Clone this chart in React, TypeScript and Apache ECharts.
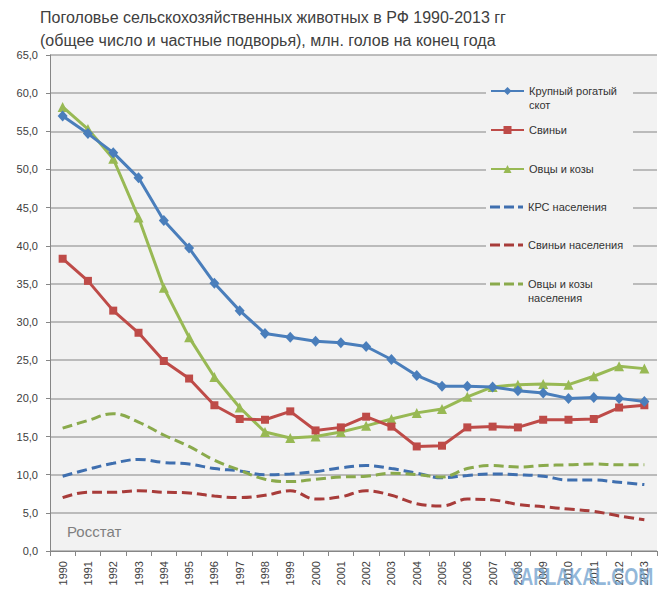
import React, { useEffect, useRef } from 'react';
import * as echarts from 'echarts';

const years = ['1990', '1991', '1992', '1993', '1994', '1995', '1996', '1997', '1998', '1999', '2000', '2001',
    '2002', '2003', '2004', '2005', '2006', '2007', '2008', '2009', '2010', '2011', '2012', '2013'];

// млн. голов на конец года
const cattle = [57.0, 54.7, 52.2, 48.9, 43.3, 39.7, 35.1, 31.5, 28.5, 28.0, 27.5, 27.3, 26.8, 25.1, 23.0, 21.6, 21.6, 21.5, 21.0, 20.7, 20.0, 20.1, 20.0, 19.6];
const pigs = [38.3, 35.4, 31.5, 28.6, 24.9, 22.6, 19.1, 17.3, 17.2, 18.3, 15.8, 16.2, 17.6, 16.3, 13.7, 13.8, 16.2, 16.3, 16.2, 17.2, 17.2, 17.3, 18.8, 19.1];
const sheep = [58.2, 55.3, 51.4, 43.7, 34.5, 28.0, 22.8, 18.8, 15.6, 14.8, 15.0, 15.6, 16.4, 17.3, 18.1, 18.6, 20.2, 21.5, 21.8, 21.9, 21.8, 22.9, 24.2, 23.9];
const cattleHh = [9.8, 10.7, 11.5, 12.0, 11.6, 11.4, 10.8, 10.5, 10.0, 10.1, 10.4, 10.9, 11.2, 10.8, 10.2, 9.6, 9.9, 10.1, 10.0, 9.8, 9.3, 9.3, 9.0, 8.7];
const pigsHh = [7.0, 7.7, 7.7, 7.9, 7.7, 7.6, 7.2, 7.0, 7.3, 7.9, 6.8, 7.1, 7.9, 7.3, 6.2, 5.9, 6.8, 6.7, 6.1, 5.8, 5.5, 5.2, 4.6, 4.1];
const sheepHh = [16.1, 17.1, 18.0, 16.9, 15.2, 13.7, 11.9, 10.6, 9.4, 9.1, 9.4, 9.7, 9.8, 10.2, 10.0, 9.7, 10.8, 11.2, 11.0, 11.2, 11.3, 11.4, 11.3, 11.3];

const names = ['Крупный рогатый скот', 'Свиньи', 'Овцы и козы', 'КРС населения', 'Свиньи населения', 'Овцы и козы населения'];
// пустая первая строка, чтобы первая строка текста стояла на уровне значка
const labels = ['\nКрупный рогатый\nскот', 'Свиньи', 'Овцы и козы', 'КРС населения', 'Свиньи населения', '\nОвцы и козы\nнаселения'];

const FONT = '"Liberation Sans", Arial, sans-serif';
const blue = '#4a7ebb';
const red = '#be4b48';
const green = '#98b954';
const dashIcon = 'path://M0,0H10V3H0Z M14,0H24V3H14Z M28,0H33V3H28Z';

export default function App() {
    const chartRef = useRef<HTMLDivElement>(null);

    useEffect(() => {
        document.body.style.margin = '0';
        if (!chartRef.current) return;
        const chart = echarts.init(chartRef.current, null, { renderer: 'svg' });

        // легенда: по одному блоку на строку, строки на уровне линий сетки
        const rows = [91, 130, 169, 207, 245, 284];
        const legends = names.map((n, i) => {
            const twoLine = labels[i].startsWith('\n');
            const dashed = i >= 3;
            return {
                data: [n],
                orient: 'vertical',
                left: 490,
                top: rows[i] - (twoLine ? 21 : 7),
                padding: 0,
                itemWidth: 33,
                itemHeight: dashed ? 3 : 10,
                icon: dashed ? dashIcon : undefined,
                selectedMode: false,
                formatter: () => labels[i],
                textStyle: {
                    fontFamily: FONT,
                    fontSize: 11,
                    lineHeight: 14,
                    color: '#333',
                },
            };
        });

        const dashed = (name: string, data: number[], color: string) => ({
            name,
            type: 'line',
            data,
            smooth: 0.4,
            symbol: 'none',
            z: 2,
            lineStyle: { width: 3, color, type: [10, 5] },
            itemStyle: { color },
        });

        const option = {
            animation: false,
            backgroundColor: '#fff',
            title: {
                text: 'Поголовье сельскохозяйственных животных в РФ 1990-2013 гг\n(общее число и частные подворья), млн. голов на конец года',
                left: 40,
                top: 6,
                padding: 0,
                textStyle: { fontFamily: FONT, fontSize: 16, fontWeight: 'normal', color: '#404040', lineHeight: 23 },
            },
            legend: legends,
            grid: {
                left: 50, right: 14, top: 55, bottom: 49,
                show: true, backgroundColor: '#f2f2f2', borderWidth: 0,
            },
            xAxis: {
                type: 'category',
                data: years,
                boundaryGap: true,
                axisLine: { lineStyle: { color: '#868686', width: 1 } },
                axisTick: { show: true, length: 5, lineStyle: { color: '#868686' } },
                axisLabel: { rotate: 90, fontFamily: FONT, fontSize: 11, color: '#404040', margin: 10 },
            },
            yAxis: {
                type: 'value',
                min: 0,
                max: 65,
                interval: 5,
                axisLine: { show: true, lineStyle: { color: '#868686', width: 1 } },
                axisTick: { show: true, length: 4, lineStyle: { color: '#868686' } },
                axisLabel: {
                    fontFamily: FONT, fontSize: 11, color: '#404040', margin: 12,
                    formatter: (v: number) => v.toFixed(1).replace('.', ','),
                },
                splitLine: { lineStyle: { color: '#a8a8a8', width: 1.5 } },
            },
            graphic: [
                // фон под легендой скрывает линии сетки
                { type: 'rect', z: 1, shape: { x: 486, y: 72, width: 147, height: 238 }, style: { fill: '#f2f2f2' } },
                { type: 'text', z: 5, x: 67, y: 524, style: { text: 'Росстат', fontFamily: FONT, fontSize: 15, fill: '#7f7f7f' } },
                {
                    type: 'text', z: 100, x: 510, y: 565, scaleX: 0.75,
                    style: { text: 'YAPLAKAL.COM', fontFamily: FONT, fontSize: 24, fontWeight: 'bold', fill: 'rgba(110,160,205,0.75)' },
                },
            ],
            series: [
                {
                    name: names[0], type: 'line', data: cattle, z: 5,
                    symbol: 'diamond', symbolSize: [10, 11],
                    lineStyle: { width: 3, color: blue }, itemStyle: { color: blue },
                },
                {
                    name: names[1], type: 'line', data: pigs, z: 4,
                    symbol: 'rect', symbolSize: 8,
                    lineStyle: { width: 3, color: red }, itemStyle: { color: red },
                },
                {
                    name: names[2], type: 'line', data: sheep, z: 3,
                    symbol: 'triangle', symbolSize: [10, 10],
                    lineStyle: { width: 3, color: green }, itemStyle: { color: green },
                },
                dashed(names[3], cattleHh, '#3f6faf'),
                dashed(names[4], pigsHh, '#a83c3a'),
                dashed(names[5], sheepHh, '#8aaa4c'),
            ],
        };
        chart.setOption(option);

        return () => {
            chart.dispose();
        };
    }, []);

    return <div ref={chartRef} style={{ width: '671px', height: '600px' }}></div>;
}
